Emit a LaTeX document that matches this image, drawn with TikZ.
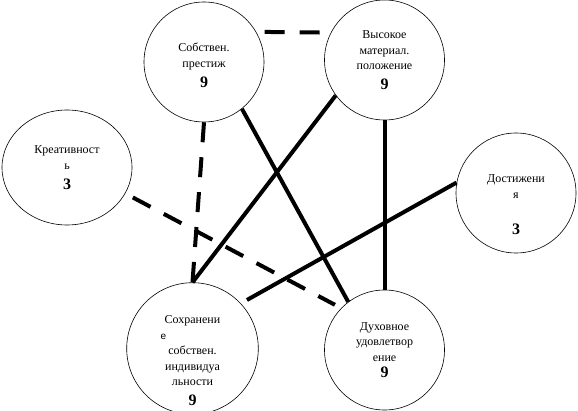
\documentclass[tikz,border=0pt]{standalone}
\usepackage{fontspec}
\setmainfont{Liberation Serif}
\setsansfont{Liberation Sans}
\usetikzlibrary{shapes.geometric}
\newcommand\ball[1]{\fontsize{16pt}{16pt}\selectfont\bfseries #1}

\begin{document}
\begin{tikzpicture}[x=1pt,y=-1pt,
  krug/.style={draw,circle,line width=0.6pt,minimum size=120pt,inner sep=0pt,align=center,font=\fontsize{12pt}{15.5pt}\selectfont},
  oval/.style={krug,ellipse,minimum width=130pt,minimum height=115pt},
  svyaz/.style={line width=4pt},
  punktir/.style={svyaz,dash pattern=on 20pt off 15pt}]
\useasboundingbox[fill=white] (0,0) rectangle (578,411);
\node[krug] (sob) at (204,62) {\rule{0pt}{15pt}Собствен.\\престиж\\[4.5pt]\ball{9}};
\node[krug] (vys) at (384.5,60) {Высокое\\материал.\\положение\\[4pt]\ball{9}};
\node[oval] (krea) at (67,167.5) {Креативност\\ь\\[4.5pt]\ball{3}};
\node[krug] (dost) at (516,193) {\rule{0pt}{31pt}Достижени\\я\\[20.5pt]\ball{3}};
\node[krug] (soh) at (192.5,348.5) {\rule{0pt}{33pt}Сохранени\\\makebox[64pt][l]{\sffamily\fontsize{10pt}{12pt}\selectfont е}\\собствен.\\индивидуа\\льности\\[4.5pt]\ball{9}};
\node[krug] (duh) at (384.5,350) {Духовное\\удовлетвор\\ение\\[1pt]\ball{9}};

\draw[punktir,shorten <=8.5pt,shorten >=9pt] (sob.30) -- (vys.153);
\draw[punktir] (sob.south) -- (soh.north);
\draw[punktir,shorten <=8.5pt,shorten >=7pt] (krea.-24) -- (duh.136);
\draw[svyaz] (sob.-51) -- (duh.127);
\draw[svyaz] (vys.216) -- (soh.north);
\draw[svyaz] (vys.south) -- (duh.north);
\draw[svyaz,shorten >=7pt] (dost.170) -- (soh.43);
\end{tikzpicture}
\end{document}
